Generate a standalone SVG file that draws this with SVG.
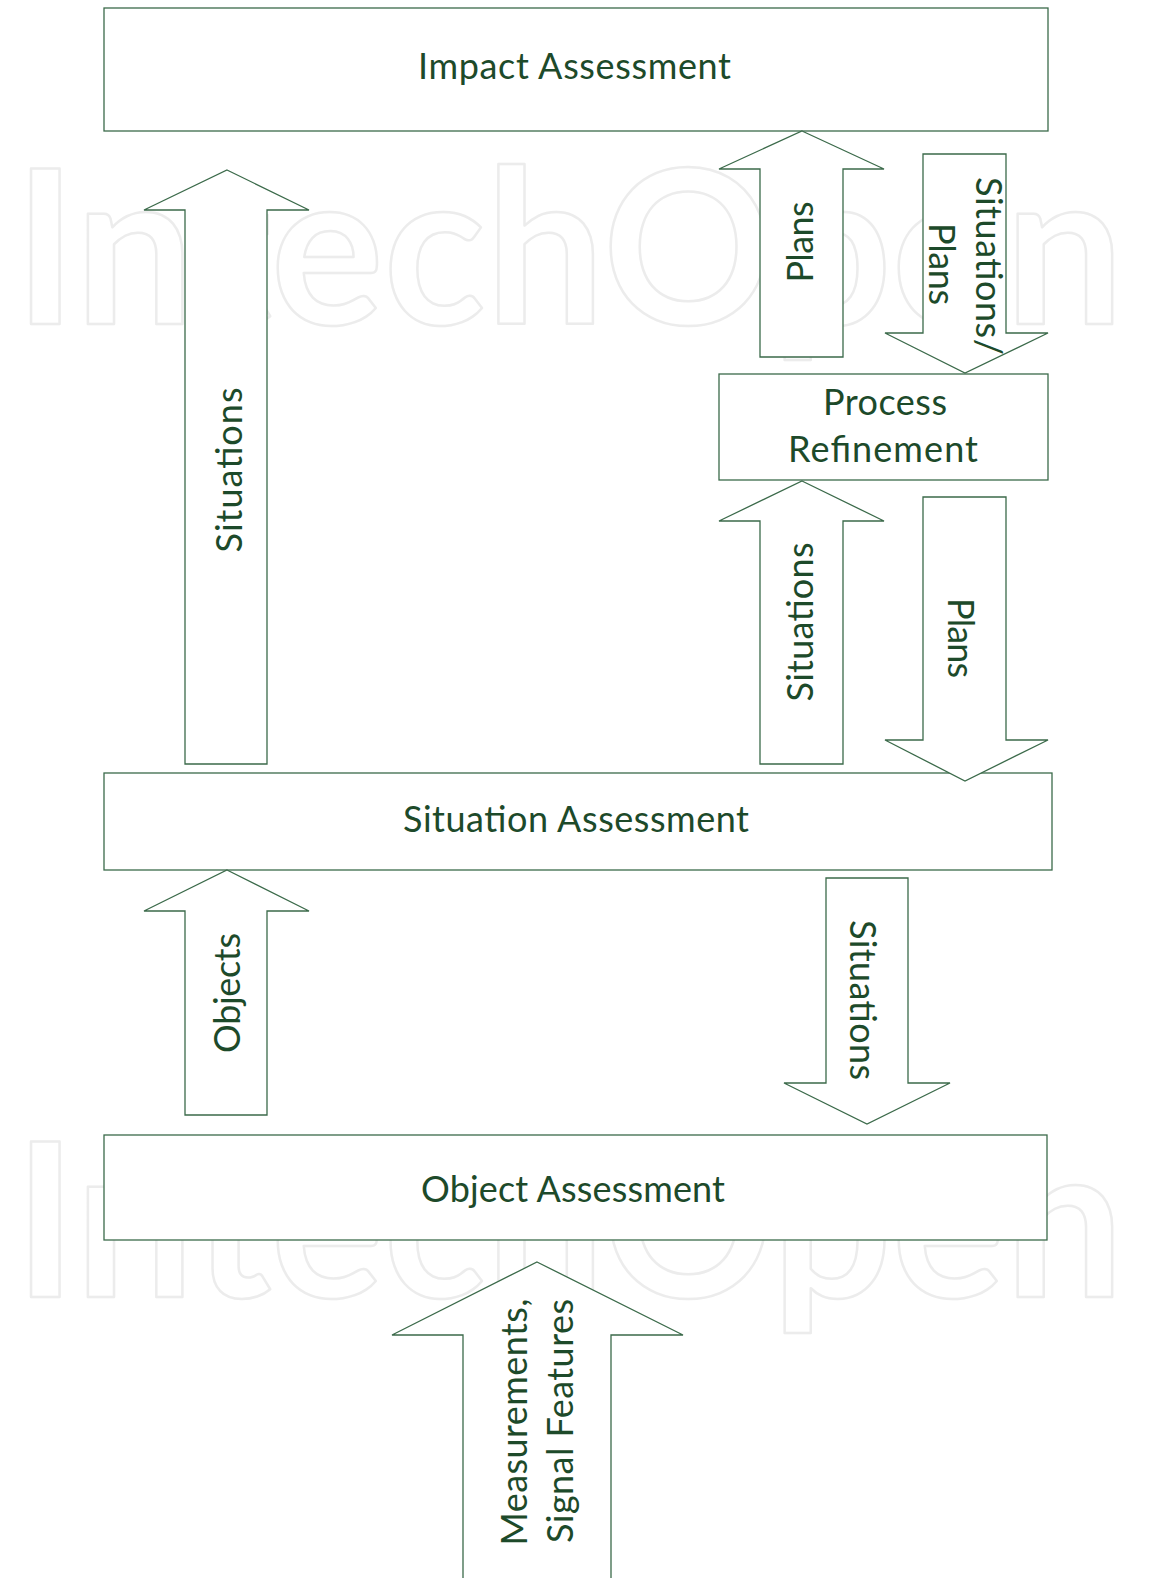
<svg xmlns="http://www.w3.org/2000/svg" width="1149" height="1578" viewBox="0 0 1149 1578">
<style>
.wm{font-family:Lato,"Liberation Sans",sans-serif;font-size:215px;font-weight:700;fill:none;stroke:#ececec;stroke-width:2.5;stroke-linejoin:round}
.box{fill:#ffffff;stroke:#3b6a4a;stroke-width:1.3}
.arr{fill:#ffffff;stroke:#3b6a4a;stroke-width:1.3;stroke-linejoin:miter}
.t{font-family:Lato,"Liberation Sans",sans-serif;font-size:36px;fill:#1d4a2a;text-anchor:middle}
</style>
<rect x="0" y="0" width="1149" height="1578" fill="#ffffff"/>
<g id="watermark">
<text class="wm" x="14" y="324" textLength="1110" lengthAdjust="spacingAndGlyphs">IntechOpen</text>
<text class="wm" x="14" y="1297" textLength="1110" lengthAdjust="spacingAndGlyphs">IntechOpen</text>
</g>
<g id="impact-assessment">
<rect class="box" x="104" y="8" width="944" height="123"/>
<text class="t" x="574.5" y="79" textLength="313" lengthAdjust="spacing">Impact Assessment</text>
</g>
<g id="process-refinement">
<rect class="box" x="719" y="374" width="329" height="106"/>
<text class="t" x="885" y="415" textLength="124" lengthAdjust="spacing">Process</text>
<text class="t" x="883" y="462" textLength="190" lengthAdjust="spacing">Refinement</text>
</g>
<g id="situation-assessment">
<rect class="box" x="104" y="773" width="948" height="97"/>
<text class="t" x="576" y="832" textLength="346" lengthAdjust="spacing">Situation Assessment</text>
</g>
<g id="object-assessment">
<rect class="box" x="104" y="1135" width="943" height="105"/>
<text class="t" x="573" y="1202" textLength="304" lengthAdjust="spacing">Object Assessment</text>
</g>
<g id="connectors">
<g id="arrow-situations-left">
<polygon class="arr" points="227,170 309,210 267,210 267,764 185,764 185,210 144,210"/>
<text class="t" transform="translate(242,470) rotate(-90)" textLength="165" lengthAdjust="spacing">Situations</text>
</g>
<g id="arrow-plans-up">
<polygon class="arr" points="802,131 884,169 843,169 843,357 760,357 760,169 719,169"/>
<text class="t" transform="translate(813,242) rotate(-90)" textLength="81" lengthAdjust="spacing">Plans</text>
</g>
<g id="arrow-situations-plans-down">
<polygon class="arr" points="923,154 1006,154 1006,333 1048,333 965,373 885,333 923,333"/>
<text class="t" transform="translate(976,266) rotate(90)" textLength="178" lengthAdjust="spacing">Situations/</text>
<text class="t" transform="translate(929,264) rotate(90)" textLength="82" lengthAdjust="spacing">Plans</text>
</g>
<g id="arrow-situations-mid">
<polygon class="arr" points="802,481 884,521 843,521 843,764 760,764 760,521 719,521"/>
<text class="t" transform="translate(813,622) rotate(-90)" textLength="159" lengthAdjust="spacing">Situations</text>
</g>
<g id="arrow-plans-down">
<polygon class="arr" points="923,497 1006,497 1006,740 1048,740 965,781 885,740 923,740"/>
<text class="t" transform="translate(948,638) rotate(90)" textLength="80" lengthAdjust="spacing">Plans</text>
</g>
<g id="arrow-objects">
<polygon class="arr" points="227,870 309,911 267,911 267,1115 185,1115 185,911 144,911"/>
<text class="t" transform="translate(240,993) rotate(-90)" textLength="120" lengthAdjust="spacing">Objects</text>
</g>
<g id="arrow-situations-down">
<polygon class="arr" points="826,878 908,878 908,1083 950,1083 867,1124 784,1083 826,1083"/>
<text class="t" transform="translate(850,1000) rotate(90)" textLength="160" lengthAdjust="spacing">Situations</text>
</g>
<g id="arrow-measurements">
<polygon class="arr" points="537,1262 683,1335 611,1335 611,1590 463,1590 463,1335 392,1335"/>
<text class="t" transform="translate(527,1422) rotate(-90)" textLength="247" lengthAdjust="spacing">Measurements,</text>
<text class="t" transform="translate(573,1421) rotate(-90)" textLength="244" lengthAdjust="spacing">Signal Features</text>
</g>
</g>
</svg>
